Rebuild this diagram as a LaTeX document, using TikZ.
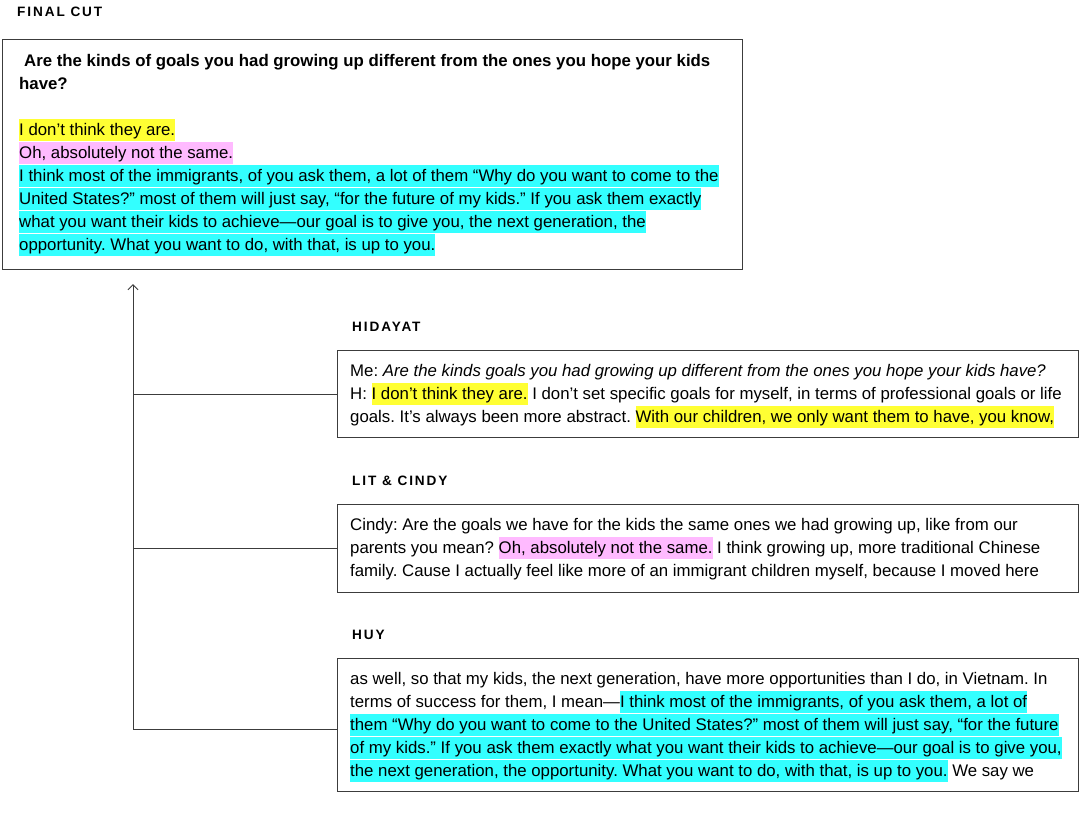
\documentclass[tikz,border=0pt]{standalone}
\usepackage{fontspec}
\setmainfont{Liberation Sans}
\newfontfamily\labelfont[LetterSpace=14]{Liberation Sans}
\usetikzlibrary{arrows.meta,calc}
\definecolor{hlyellow}{RGB}{255,255,51}
\definecolor{hlpink}{RGB}{255,186,255}
\definecolor{hlcyan}{RGB}{51,255,255}
\definecolor{boxgray}{RGB}{60,60,60}
\newcommand\hlbox[2]{{\setlength\fboxsep{0pt}\colorbox{#1}{\rule[-5.5pt]{0pt}{22pt}#2}}}
\newcommand\hly[1]{\hlbox{hlyellow}{#1}}
\newcommand\hlp[1]{\hlbox{hlpink}{#1}}
\newcommand\hlc[1]{\hlbox{hlcyan}{#1}}
\newcommand\bodyfont{\fontsize{16.8}{23}\selectfont\frenchspacing}
\begin{document}
\begin{tikzpicture}[x=1pt,y=1pt,
  panel/.style={draw=boxgray, line width=1.2pt, fill=white, anchor=north west, inner sep=0pt},
  txt/.style={anchor=base west, inner sep=0pt, font=\bodyfont},
  lbl/.style={anchor=west, inner sep=0pt, font=\labelfont\bfseries\fontsize{13.6}{15}\selectfont},
  conn/.style={draw=boxgray, line width=0.9pt}]
\useasboundingbox (0,0) rectangle (1081,-815);
\fill[white] (0,0) rectangle (1081,-815);

% labels
\node[lbl] (lfinal) at (17,-12) {FINAL CUT};
\node[lbl] (lhid) at (352,-327) {HIDAYAT};
\node[lbl] (llit) at (352,-481) {LIT \& CINDY};
\node[lbl] (lhuy) at (352,-635) {HUY};

% panels
\node[panel, minimum width=740, minimum height=230] (final) at (2,-39) {};
\node[panel, minimum width=741, minimum height=87] (hid) at (337,-350) {};
\node[panel, minimum width=741, minimum height=88] (lit) at (337,-504) {};
\node[panel, minimum width=741, minimum height=133] (huy) at (337,-658) {};

% final cut text
\node[txt, font=\bodyfont\bfseries] (f1) at (24,-66) {Are the kinds of goals you had growing up different from the ones you hope your kids};
\node[txt, font=\bodyfont\bfseries] (f2) at (19,-89) {have?};
\node[txt] (f3) at (19,-135) {\hly{I don’t think they are.}};
\node[txt] (f4) at (19,-158) {\hlp{Oh, absolutely not the same.}};
\node[txt] (f5) at (19,-181) {\hlc{I think most of the immigrants, of you ask them, a lot of them “Why do you want to come to the}};
\node[txt] (f6) at (19,-204) {\hlc{United States?” most of them will just say, “for the future of my kids.” If you ask them exactly}};
\node[txt] (f7) at (19,-227) {\hlc{what you want their kids to achieve—our goal is to give you, the next generation, the}};
\node[txt] (f8) at (19,-250) {\hlc{opportunity. What you want to do, with that, is up to you.}};

% hidayat text
\node[txt] (h1) at (350,-376) {Me: \textit{Are the kinds goals you had growing up different from the ones you hope your kids have?}};
\node[txt] (h2) at (350,-399) {H: \hly{I don’t think they are.} I don’t set specific goals for myself, in terms of professional goals or life};
\node[txt] (h3) at (350,-422) {goals. It’s always been more abstract. \hly{With our children, we only want them to have, you know,}};

% lit & cindy text
\node[txt] (c1) at (350,-530) {Cindy: Are the goals we have for the kids the same ones we had growing up, like from our};
\node[txt] (c2) at (350,-553) {parents you mean? \hlp{Oh, absolutely not the same.} I think growing up, more traditional Chinese};
\node[txt] (c3) at (350,-576) {family. Cause I actually feel like more of an immigrant children myself, because I moved here};

% huy text
\node[txt] (u1) at (350,-684) {as well, so that my kids, the next generation, have more opportunities than I do, in Vietnam. In};
\node[txt] (u2) at (350,-707) {terms of success for them, I mean—\hlc{I think most of the immigrants, of you ask them, a lot of}};
\node[txt] (u3) at (350,-730) {\hlc{them “Why do you want to come to the United States?” most of them will just say, “for the future}};
\node[txt] (u4) at (350,-753) {\hlc{of my kids.” If you ask them exactly what you want their kids to achieve—our goal is to give you,}};
\node[txt] (u5) at (350,-776) {\hlc{the next generation, the opportunity. What you want to do, with that, is up to you.} We say we};

% connectors
\coordinate (top) at ($(final.south west)+(131,-14)$);
\coordinate (bot) at (top |- 0,-729);
\draw[conn, -{Straight Barb[length=5pt,width=10pt,line width=0.9pt]}] (bot) -- (top);
\draw[conn] (top |- hid.west) -- (hid.west);
\draw[conn] (top |- lit.west) -- (lit.west);
\draw[conn] (bot) -- (bot -| huy.west);
\end{tikzpicture}
\end{document}
